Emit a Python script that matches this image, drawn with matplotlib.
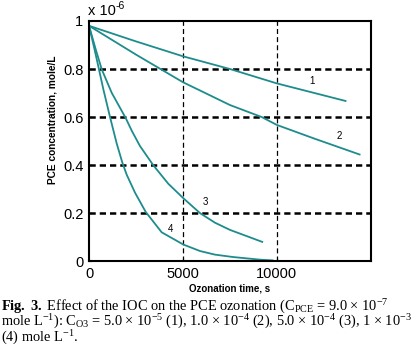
import matplotlib.pyplot as plt

plt.rcParams['font.family'] = ['Liberation Sans', 'DejaVu Sans']
plt.rcParams['mathtext.fontset'] = 'custom'
plt.rcParams['mathtext.rm'] = 'Liberation Serif'
plt.rcParams['mathtext.it'] = 'Liberation Serif:italic'
plt.rcParams['mathtext.bf'] = 'Liberation Serif:bold'

# curves (time in s, concentration in 1e-6 mole/L)
t1 = [0, 2500, 5000, 7500, 10000, 12000, 13650]
c1 = [0.98, 0.915, 0.853, 0.80, 0.74, 0.70, 0.667]
t2 = [0, 2500, 5000, 7500, 9190, 10000, 12000, 14400]
c2 = [0.98, 0.86, 0.745, 0.65, 0.60, 0.567, 0.51, 0.444]
t3 = [0, 355, 674, 1206, 1950, 2280, 2713, 3422, 4220, 5018, 5904, 6702, 7500, 9218]
c3 = [0.98, 0.882, 0.799, 0.701, 0.596, 0.542, 0.479, 0.399, 0.322, 0.262, 0.20, 0.16, 0.13, 0.08]
t4 = [0, 283, 497, 763, 1117, 1472, 1773, 2003, 2447, 3014, 3865, 5018, 5904, 6700, 7660, 9096, 9770]
c4 = [0.98, 0.885, 0.81, 0.715, 0.60, 0.49, 0.41, 0.36, 0.285, 0.205, 0.12, 0.069, 0.042, 0.027,
      0.017, 0.006, 0.003]

curve_labels = ['1', '2', '3', '4']
label_pos = [(11860, 0.75), (13300, 0.52), (6170, 0.246), (4360, 0.133)]

teal = '#1e8c8c'

fig = plt.figure(figsize=(4.2, 3.5), dpi=100)
ax = fig.add_axes([0.212, 0.254, 0.671, 0.686])

for t, c in [(t1, c1), (t2, c2), (t3, c3), (t4, c4)]:
    ax.plot(t, c, color=teal, lw=1.3)

for lab, (x, y) in zip(curve_labels, label_pos):
    ax.text(x, y, lab, fontsize=7, ha='center', va='center')

# grid: heavy dashes for horizontal, thin for vertical
for y in [0.2, 0.4, 0.6, 0.8]:
    ax.axhline(y, color='black', lw=1.8, dashes=(2.5, 1.6), zorder=0)
for x in [5000, 10000]:
    ax.axvline(x, color='black', lw=0.9, dashes=(4, 2.5), zorder=0)

ax.set_xlim(0, 15000)
ax.set_ylim(0, 1)
ax.set_xticks([0, 5000, 10000])
ax.set_yticks([0, 0.2, 0.4, 0.6, 0.8, 1])
ax.set_yticklabels(['0', '0.2', '0.4', '0.6', '0.8', '1'])
ax.tick_params(direction='in', length=2, labelsize=10.5, pad=4)
for s in ax.spines.values():
    s.set_linewidth(1.5)

ax.set_xlabel('Ozonation time, s', fontsize=7, fontweight='bold', labelpad=2)
ax.set_ylabel('PCE concentration, mole/L', fontsize=7.3, fontweight='bold')
ax.yaxis.set_label_coords(-0.113, 0.59)

fig.text(0.21, 0.949, 'x 10', fontsize=10.5, va='bottom')
fig.text(0.276, 0.968, '-6', fontsize=7.5, va='bottom')

cap = [
    r'$\mathbf{Fig.\ 3.}$ Effect of the IOC on the PCE ozonation (C$_{\rm PCE}$ = 9.0 × 10$^{−7}$',
    r'mole L$^{−1}$): C$_{\rm O3}$ = 5.0 × 10$^{−5}$ (1), 1.0 × 10$^{−4}$ (2), 5.0 × 10$^{−4}$ (3), 1 × 10$^{−3}$',
    r'(4) mole L$^{−1}$.',
]
for i, line in enumerate(cap):
    fig.text(0.002, 0.122 - i * 0.043, line, fontsize=10.4, family='Liberation Serif', va='center')

fig.savefig('out.png', dpi=100)
